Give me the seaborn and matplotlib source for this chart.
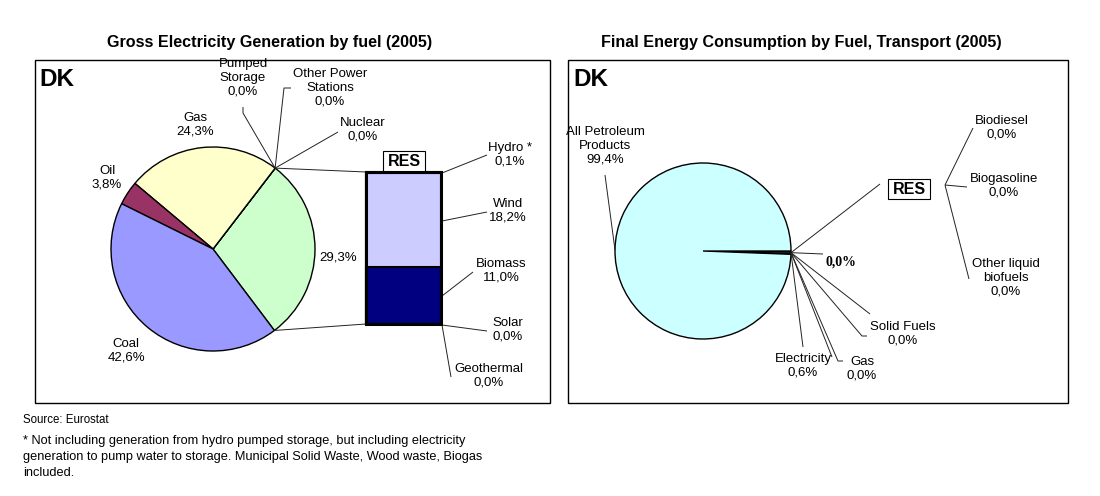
import numpy as np
import pandas as pd
import matplotlib
matplotlib.use("Agg")
import matplotlib.pyplot as plt
import seaborn as sns
from matplotlib.patches import Rectangle

# ---------------- data ----------------
gen_fuels = ["RES", "Nuclear", "Other Power\nStations", "Pumped\nStorage", "Gas", "Oil", "Coal"]
gen_share = [29.3, 0.0, 0.0, 0.0, 24.3, 3.8, 42.6]
gen_colors = ["#CCFFCC", "#FFFFFF", "#FFFFFF", "#FFFFFF", "#FFFFCC", "#993366", "#9999FF"]

res_sources = ["Geothermal", "Solar", "Biomass", "Wind", "Hydro *"]
res_share = [0.0, 0.0, 11.0, 18.2, 0.1]
res_colors = ["#FFFFFF", "#FFFFFF", "#000080", "#CCCCFF", "#CCCCFF"]

tr_fuels = ["Electricity", "Gas", "Solid Fuels", "RES", "All Petroleum\nProducts"]
tr_share = [0.6, 0.0, 0.0, 0.0, 99.4]
tr_colors = ["#1A1A10", "#FFFFFF", "#FFFFFF", "#FFFFFF", "#CCFFFF"]

tr_res = ["Biodiesel", "Biogasoline", "Other liquid\nbiofuels"]
tr_res_share = [0.0, 0.0, 0.0]

title_left = "Gross Electricity Generation by fuel (2005)"
title_right = "Final Energy Consumption by Fuel, Transport (2005)"
country = "DK"
source = "Source: Eurostat"
footnote = ("* Not including generation from hydro pumped storage, but including electricity\n"
            "generation to pump water to storage. Municipal Solid Waste, Wood waste, Biogas\n"
            "included.")


def fmt(v):
    return f"{v:.1f}".replace(".", ",") + "%"


# ---------------- setup ----------------
sns.set_theme(style="white")
plt.rcParams["font.family"] = ["Liberation Sans", "DejaVu Sans"]
plt.rcParams["text.color"] = "black"

W, H = 1100, 496
fig = plt.figure(figsize=(W / 100, H / 100), dpi=100)
fig.patch.set_facecolor("white")


def px_axes(x0, y0, x1, y1):
    return fig.add_axes([x0 / W, 1 - y1 / H, (x1 - x0) / W, (y1 - y0) / H])


ov = px_axes(0, 0, W, H)
ov.set_xlim(0, W)
ov.set_ylim(H, 0)
ov.axis("off")
ov.patch.set_alpha(0)
ov.set_zorder(10)

LFS = 9.5
LC = "black"
LW = 0.7
LCOL = "#222222"


def lab(x, y, s, **kw):
    d = dict(ha="center", va="center", fontsize=LFS, color=LC, linespacing=1.22)
    d.update(kw)
    ov.text(x, y, s, **d)


def leader(pts):
    xs, ys = zip(*pts)
    ov.plot(xs, ys, color=LCOL, lw=LW, solid_capstyle="butt")


# panel boxes
for (x0, x1) in [(35, 550), (568, 1068)]:
    ov.add_patch(Rectangle((x0, 60), x1 - x0, 343, fill=False, ec="black", lw=1.0, zorder=1))

# titles
ov.text(270, 43, title_left, ha="center", va="center", fontsize=11.6, fontweight="bold")
ov.text(801, 43, title_right, ha="center", va="center", fontsize=11.6, fontweight="bold")
ov.text(39, 80, country, ha="left", va="center", fontsize=17.5, fontweight="bold")
ov.text(573, 80, country, ha="left", va="center", fontsize=17.5, fontweight="bold")

# footer
ov.text(23, 420, source, ha="left", va="center", fontsize=8.3)
ov.text(23, 457, footnote, ha="left", va="center", fontsize=9.2, linespacing=1.4)

# ---------------- left pie ----------------
cx1, cy1, r1 = 213, 249, 102
ax1 = px_axes(cx1 - r1, cy1 - r1, cx1 + r1, cy1 + r1)
w1, _ = ax1.pie(gen_share, colors=gen_colors, startangle=-53, counterclock=True,
                wedgeprops=dict(edgecolor="black", linewidth=1.0))
for w in w1:
    w.set_clip_on(False)
ax1.set_xlim(-1, 1)
ax1.set_ylim(-1, 1)
ax1.axis("off")

t1, t2 = np.deg2rad(w1[0].theta1), np.deg2rad(w1[0].theta2)
top_pt = (cx1 + r1 * np.cos(t2), cy1 - r1 * np.sin(t2))
bot_pt = (cx1 + r1 * np.cos(t1), cy1 - r1 * np.sin(t1))

# ---------------- RES bar ----------------
bx0, by0, bx1, by1 = 366, 172, 441, 324
axb = px_axes(bx0, by0, bx1, by1)
cum = np.cumsum(res_share)
for i in range(len(res_share) - 1, -1, -1):
    df = pd.DataFrame({"grp": ["RES"], "val": [cum[i]]})
    sns.barplot(data=df, x="grp", y="val", color=res_colors[i], saturation=1,
                width=1.0, edgecolor="black", linewidth=1.5, ax=axb)
for p in axb.patches:
    p.set_clip_on(False)
axb.set_xlim(-0.5, 0.5)
axb.set_ylim(0, cum[-1])
axb.axis("off")
ov.add_patch(Rectangle((bx0, by0), bx1 - bx0, by1 - by0, fill=False, ec="black", lw=2.2, zorder=5))
# RES tag
ov.add_patch(Rectangle((383, 151), 42, 21, fc="white", ec="black", lw=0.8, zorder=4))
ov.text(404, 162, "RES", ha="center", va="center", fontsize=11.5, fontweight="bold", zorder=6)

# pie -> bar connectors
leader([top_pt, (bx0, by0)])
leader([bot_pt, (bx0, by1)])

# left labels
gen = dict(zip(gen_fuels, gen_share))
lab(195, 125, f"Gas\n{fmt(gen['Gas'])}")
lab(107, 178, f"Oil\n{fmt(gen['Oil'])}")
lab(126, 351, f"Coal\n{fmt(gen['Coal'])}")
lab(338, 258, fmt(gen["RES"]))
lab(243, 78, f"Pumped\nStorage\n{fmt(gen['Pumped' + chr(10) + 'Storage'])}", zorder=3)
lab(330, 88, f"Other Power\nStations\n{fmt(gen['Other Power' + chr(10) + 'Stations'])}")
lab(363, 130, f"Nuclear\n{fmt(gen['Nuclear'])}")
leader([(243, 107), (243, 113), top_pt])
leader([(291, 88), (284, 88), top_pt])
leader([(338, 132), top_pt])

res = dict(zip(res_sources, res_share))
lab(510, 155, f"Hydro *\n{fmt(res['Hydro *'])}")
lab(508, 211, f"Wind\n{fmt(res['Wind'])}")
lab(501, 271, f"Biomass\n{fmt(res['Biomass'])}")
lab(508, 330, f"Solar\n{fmt(res['Solar'])}")
lab(489, 376, f"Geothermal\n{fmt(res['Geothermal'])}")
leader([(487, 155), (bx1 + 1, 173)])
leader([(487, 212), (bx1 + 1, 221)])
leader([(473, 272), (bx1 + 1, 296)])
leader([(487, 331), (bx1 + 1, 325)])
leader([(451, 377), (bx1 + 1, 325)])

# ---------------- right pie ----------------
cx2, cy2, r2 = 703, 251, 88
ax2 = px_axes(cx2 - r2, cy2 - r2, cx2 + r2, cy2 + r2)
w2, _ = ax2.pie(tr_share, colors=tr_colors, startangle=0, counterclock=False,
                wedgeprops=dict(edgecolor="black", linewidth=1.0))
for w in w2:
    w.set_clip_on(False)
ax2.set_xlim(-1, 1)
ax2.set_ylim(-1, 1)
ax2.axis("off")
mid = np.deg2rad((w2[0].theta1 + w2[0].theta2) / 2)
cp = (cx2 + r2 * np.cos(mid), cy2 - r2 * np.sin(mid))

tr = dict(zip(tr_fuels, tr_share))
lab(605, 146, f"All Petroleum\nProducts\n{fmt(tr['All Petroleum' + chr(10) + 'Products'])}")
leader([(605, 175), (615, 250)])
lab(803, 366, f"Electricity\n{fmt(tr['Electricity'])}")
lab(862, 369, f"Gas\n{fmt(tr['Gas'])}")
lab(903, 334, f"Solid Fuels\n{fmt(tr['Solid Fuels'])}")
ov.text(841, 262, fmt(tr["RES"]), ha="center", va="center", fontsize=10,
        fontweight="bold", family=["Liberation Serif", "DejaVu Serif"])
leader([(823, 254), cp])
leader([(880, 184), cp])
leader([(870, 314), cp])
leader([(867, 336), (862, 336), cp])
leader([(843, 361), (838, 361), cp])
leader([(832, 357), cp])
leader([(803, 347), cp])

# RES tag right
ov.add_patch(Rectangle((888, 179), 42, 20, fc="white", ec="black", lw=0.8, zorder=4))
ov.text(909, 189, "RES", ha="center", va="center", fontsize=11.5, fontweight="bold", zorder=6)
vx, vy = 945, 185
leader([(vx, vy), (973, 128)])
leader([(vx, vy), (967, 187)])
leader([(vx, vy), (969, 279)])
trr = dict(zip(tr_res, tr_res_share))
lab(1002, 128, f"Biodiesel\n{fmt(trr['Biodiesel'])}")
lab(1004, 186, f"Biogasoline\n{fmt(trr['Biogasoline'])}")
lab(1006, 278, f"Other liquid\nbiofuels\n{fmt(trr['Other liquid' + chr(10) + 'biofuels'])}")

fig.savefig("out.png", dpi=100, facecolor="white")
